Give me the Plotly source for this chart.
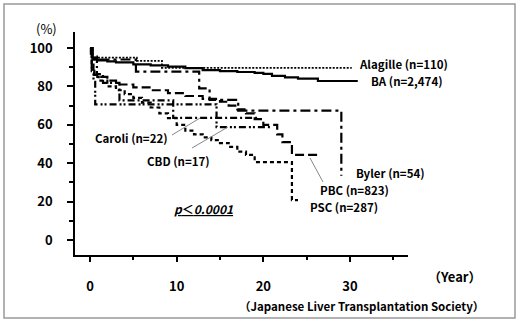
import plotly.graph_objects as go

# ---- data (years, survival %) ----
alagille_t = [0, 0.2, 5.4, 8.3, 30.2]
alagille_s = [100, 95, 93.3, 89.7, 89.7]

ba_t = [0, 0.1, 0.3, 0.6, 1, 2, 3, 5, 7, 9, 11, 13, 15, 17, 19, 20, 21, 22.5, 24, 26.3, 30.9]
ba_s = [100, 97, 95, 94, 93.5, 93, 92.5, 91.5, 91, 90.3, 89.5, 88.5, 88, 87.5, 87, 86.5, 85.5, 84.7, 84, 82.8, 82.8]

byler_t = [0, 0.3, 5.3, 12.6, 13.8, 17.1, 29.0]
byler_s = [100, 94, 87.7, 79, 73, 67.4, 33.5]

caroli_t = [0, 0.3, 0.8, 1.5, 3.4, 9.6, 19.6]
caroli_s = [100, 95.5, 86.4, 81.8, 72.7, 63.6, 63.6]

cbd_t = [0, 0.2, 0.4, 0.6, 14.6, 20.8]
cbd_s = [100, 94.1, 82.4, 70.6, 58.8, 58.8]

pbc_t = [0, 0.2, 0.5, 1, 2, 3, 5, 7, 9, 11, 13, 15, 16, 17, 18, 19, 20, 21.6, 22.2, 23.3, 26.3]
pbc_s = [100, 90, 86, 85, 83, 81, 79.5, 78, 76.5, 75, 73.5, 72, 70, 68, 66, 63, 60, 55, 51, 44.3, 44.3]

psc_t = [0, 0.2, 0.5, 1, 2, 3, 4, 5, 6, 7, 8, 9, 10, 11, 12, 13, 14, 15, 16, 17, 18, 19, 23.3, 24]
psc_s = [100, 88, 85, 83, 80, 78, 76, 74, 71.5, 69, 66, 63.5, 60, 57, 55, 53.5, 52, 50.5, 48.5, 46, 44.3, 40.6, 20.8, 20.8]

labels = ["Alagille (n=110)", "BA (n=2,474)", "Caroli (n=22)", "CBD (n=17)",
          "Byler (n=54)", "PBC (n=823)", "PSC (n=287)"]
y_ticks = [0, 20, 40, 60, 80, 100]
x_ticks = [0, 10, 20, 30]

# ---- layout geometry (pixels) ----
W, H = 520, 323
L, R, T, B = 75, 408, 32, 255


def px(x):
    return (x - L) / (R - L)


def py(y):
    return (B - y) / (B - T)


fig = go.Figure()

series = [
    (alagille_t, alagille_s, "2px,1.5px", 1.8),
    (ba_t, ba_s, "solid", 2.2),
    (byler_t, byler_s, "10px,4px,3px,4px", 2.2),
    (caroli_t, caroli_s, "7px,3px,2px,3px", 2.2),
    (cbd_t, cbd_s, "7px,3px,2px,2px,2px,3px", 2.2),
    (pbc_t, pbc_s, "9px,4px", 2.2),
    (psc_t, psc_s, "4px,3px", 2.2),
]
for t, s, dash, w in series:
    fig.add_trace(go.Scatter(x=t, y=s, mode="lines", line=dict(shape="hv", color="black", width=w, dash=dash),
                             showlegend=False, hoverinfo="skip"))

font_lbl = dict(family="Noto Sans CJK JP", size=11.5, color="black", weight="bold")
ann = []
label_pos = [(357, 64), (369, 81), (93, 138), (145, 161), (354, 173), (318, 190), (308, 207)]
for txt, (x, y) in zip(labels, label_pos):
    ann.append(dict(x=px(x), y=py(y), xref="paper", yref="paper", text=txt, showarrow=False,
                    xanchor="left", yanchor="middle", font=font_lbl))
ann.append(dict(x=px(172), y=py(208), xref="paper", yref="paper",
                text="<u><i>p</i>＜<i>0.0001</i></u>", showarrow=False, xanchor="left", yanchor="middle",
                font=dict(family="Noto Sans CJK JP", size=12, color="black", weight="bold")))
ann.append(dict(x=px(34), y=py(29), xref="paper", yref="paper", text="(%)", showarrow=False,
                xanchor="left", yanchor="middle", font=dict(family="Noto Sans CJK JP", size=13, color="black")))
ann.append(dict(x=px(426), y=py(276), xref="paper", yref="paper", text="（Year）", showarrow=False,
                xanchor="left", yanchor="middle", font=dict(family="Noto Sans CJK JP", size=13, color="black", weight="bold")))
ann.append(dict(x=px(486), y=py(306), xref="paper", yref="paper", text="（Japanese Liver Transplantation Society）",
                showarrow=False, xanchor="right", yanchor="middle",
                font=dict(family="Noto Sans CJK JP", size=11.5, color="black", weight="bold")))

shapes = [
    dict(type="rect", xref="paper", yref="paper", x0=px(4), x1=px(515), y0=py(318), y1=py(4),
         line=dict(color="#999", width=1.5)),
    dict(type="line", xref="paper", yref="paper", x0=px(172), y0=py(135), x1=px(200), y1=py(118),
         line=dict(color="#888", width=1)),
    dict(type="line", xref="paper", yref="paper", x0=px(192), y0=py(148), x1=px(228), y1=py(127),
         line=dict(color="#888", width=1)),
    dict(type="line", xref="paper", yref="paper", x0=px(323), y0=py(182), x1=px(310), y1=py(158),
         line=dict(color="#888", width=1)),
]

x_per = (350 - 90) / 30.0
y_per = (240 - 48) / 100.0
tickfont = dict(family="Noto Sans CJK JP", size=13, color="black", weight="bold")
fig.update_layout(
    width=W, height=H, margin=dict(l=L, r=W - R, t=T, b=H - B),
    paper_bgcolor="white", plot_bgcolor="white",
    annotations=ann, shapes=shapes,
    xaxis=dict(range=[(L - 90) / x_per, (R - 90) / x_per], tickvals=x_ticks, ticks="outside", ticklen=5,
               tickwidth=1.5, tickcolor="black", showline=True, linecolor="black", linewidth=1.5,
               showgrid=False, zeroline=False, ticklabelstandoff=14, tickfont=tickfont,
               minor=dict(tickvals=[5, 15, 25, 35], ticks="outside", ticklen=3, tickwidth=1.5, tickcolor="black")),
    yaxis=dict(range=[(240 - B) / y_per, (240 - T) / y_per], tickvals=y_ticks, ticks="outside", ticklen=6,
               tickwidth=1.5, tickcolor="black", showline=True, linecolor="black", linewidth=1.5,
               showgrid=False, zeroline=False, ticklabelstandoff=12, tickfont=tickfont,
               minor=dict(tickvals=[10, 30, 50, 70, 90], ticks="outside", ticklen=4, tickwidth=1.5, tickcolor="black")),
)

fig.write_html("out.html")
